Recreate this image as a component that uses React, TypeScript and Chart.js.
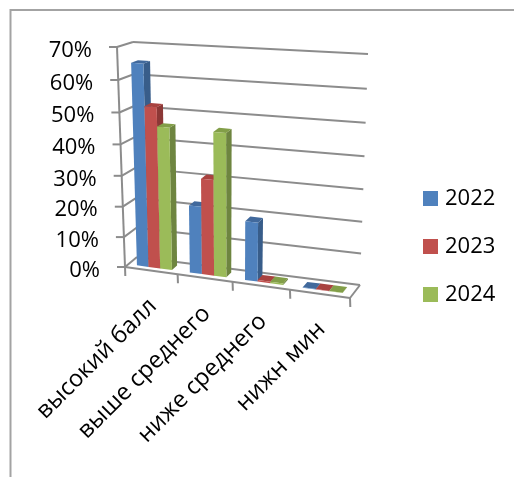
import React, { useEffect, useRef } from "react";
import { Chart, registerables } from "chart.js";

Chart.register(...registerables);

const categories = ["высокий балл", "выше среднего", "ниже среднего", "нижн мин"];
const seriesNames = ["2022", "2023", "2024"];
const values2022 = [65, 22, 19, 0.1];
const values2023 = [52, 31, 0.5, 0.1];
const values2024 = [46, 46, 0.5, 0.1];
const frontColors = ["#4F81BD", "#C0504D", "#9BBB59"];
const sideColors = ["#385D8A", "#8C3836", "#6E8540"];
const topColors = ["#41699C", "#A8423F", "#829E48"];

type Pt = [number, number];
const FBL: Pt = [125, 267], FBR: Pt = [350, 298], FTL: Pt = [117, 47], FTR: Pt = [358, 67];
const BBL: Pt = [137, 257], BBR: Pt = [360, 285], BTL: Pt = [133, 42], BTR: Pt = [368, 54];
const warp = (t: number, a: number) => (a * t) / (1 + (a - 1) * t);
const mix = (p: Pt, q: Pt, t: number): Pt => [p[0] + (q[0] - p[0]) * t, p[1] + (q[1] - p[1]) * t];
function project(u: number, v: number, d: number): Pt {
  const uu = warp(u, 0.916), vv = warp(v, 0.944);
  const front = mix(mix(FBL, FBR, uu), mix(FTL, FTR, uu), vv);
  const back = mix(mix(BBL, BBR, uu), mix(BTL, BTR, uu), vv);
  return mix(front, back, d);
}
const FONT_Y = "22px 'Open Sans'";
const FONT_X = "23.5px 'Open Sans'";
const GRID = "#8c8c8c";

function poly(ctx: CanvasRenderingContext2D, pts: Pt[], color: string) {
  ctx.beginPath();
  pts.forEach((p, i) => (i ? ctx.lineTo(p[0], p[1]) : ctx.moveTo(p[0], p[1])));
  ctx.closePath();
  ctx.fillStyle = color;
  ctx.fill();
}
function seg(ctx: CanvasRenderingContext2D, a: Pt, b: Pt) {
  ctx.beginPath();
  ctx.moveTo(a[0], a[1]);
  ctx.lineTo(b[0], b[1]);
  ctx.stroke();
}

const scene3d = {
  id: "scene3d",
  beforeDraw(chart: any) {
    chart.legend.left = 401;
    const ctx: CanvasRenderingContext2D = chart.ctx;
    ctx.save();
    ctx.strokeStyle = "#a3a3a3";
    ctx.lineWidth = 2;
    ctx.beginPath();
    ctx.moveTo(10.5, 477);
    ctx.lineTo(10.5, 10);
    ctx.lineTo(514, 10);
    ctx.stroke();
    ctx.restore();
  },
  beforeDatasetsDraw(chart: any) {
    const ctx: CanvasRenderingContext2D = chart.ctx;
    const { x: xs, y: ys } = chart.scales;
    const a = chart.chartArea;
    const U = (px: number) => (px - a.left) / (a.right - a.left);
    const V = (py: number) => (a.bottom - py) / (a.bottom - a.top);
    ctx.save();
    ctx.strokeStyle = GRID;
    ctx.lineWidth = 2;
    ctx.lineJoin = "round";
    // walls and value axis
    ys.ticks.forEach((t: any) => {
      const v = V(ys.getPixelForValue(t.value));
      const f = project(0, v, 0);
      seg(ctx, project(0, v, 1), project(1, v, 1));
      seg(ctx, f, project(0, v, 1));
      seg(ctx, [f[0] - 8, f[1]], f);
      ctx.fillStyle = "#000";
      ctx.font = FONT_Y;
      ctx.textAlign = "right";
      ctx.textBaseline = "middle";
      ctx.fillText(t.label, f[0] - 25, f[1] + 3.5);
    });
    seg(ctx, project(0, 0, 0), project(0, 1, 0));
    // floor
    seg(ctx, project(0, 0, 0), project(1, 0, 0));
    seg(ctx, project(1, 0, 0), project(1, 0, 1));
    for (let i = 0; i <= categories.length; i++) {
      const p = project(U(xs.getPixelForValue(i - 0.5)), 0, 0);
      seg(ctx, p, [p[0] + 0.3, p[1] + 9]);
    }
    // category labels
    xs.ticks.forEach((t: any, i: number) => {
      const p = project(U(xs.getPixelForValue(i)), 0, 0);
      ctx.save();
      ctx.translate(p[0] + 2, p[1] + 32);
      ctx.rotate((-45 * Math.PI) / 180);
      ctx.fillStyle = "#000";
      ctx.font = FONT_X;
      ctx.textAlign = "right";
      ctx.textBaseline = "middle";
      ctx.fillText(t.label, 0, 0);
      ctx.restore();
    });
    // bars
    const d0 = 0.28, d1 = 0.72;
    categories.forEach((_, j) => {
      chart.data.datasets.forEach((_d: any, s: number) => {
        const bar = chart.getDatasetMeta(s).data[j];
        const l = U(bar.x - bar.width / 2), r = U(bar.x + bar.width / 2);
        const b = V(bar.base), h = V(bar.y);
        poly(ctx, [project(r, b, d0), project(r, b, d1), project(r, h, d1), project(r, h, d0)], sideColors[s]);
        poly(ctx, [project(l, h, d0), project(r, h, d0), project(r, h, d1), project(l, h, d1)], topColors[s]);
        poly(ctx, [project(l, b, d0), project(r, b, d0), project(r, h, d0), project(l, h, d0)], frontColors[s]);
      });
    });
    ctx.restore();
    return false;
  },
};

export default function App() {
  const ref = useRef<HTMLCanvasElement>(null);
  useEffect(() => {
    const chart = new Chart(ref.current!, {
      type: "bar",
      data: {
        labels: categories,
        datasets: [values2022, values2023, values2024].map((data, i) => ({
          label: seriesNames[i],
          data,
          backgroundColor: frontColors[i],
          borderWidth: 0,
          categoryPercentage: 0.667,
          barPercentage: 1,
        })),
      },
      options: {
        animation: false,
        responsive: false,
        layout: { padding: { top: 16 } },
        plugins: {
          tooltip: { enabled: false },
          legend: {
            position: "right",
            labels: {
              usePointStyle: true,
              pointStyle: "rect",
              boxWidth: 7,
              boxHeight: 15,
              padding: 26,
              color: "#000",
              font: { family: "'Open Sans'", size: 22 },
            },
          },
        },
        scales: {
          x: { display: false, ticks: { autoSkip: false } },
          y: {
            display: false,
            min: 0,
            max: 70,
            ticks: { stepSize: 10, callback: (v: any) => `${v}%` },
          },
        },
      },
      plugins: [scene3d],
    } as any);
    return () => chart.destroy();
  }, []);
  return (
    <canvas
      ref={ref}
      width={514}
      height={477}
      style={{ position: "fixed", left: 0, top: 0, width: 514, height: 477, filter: "blur(0.45px)" }}
    />
  );
}
